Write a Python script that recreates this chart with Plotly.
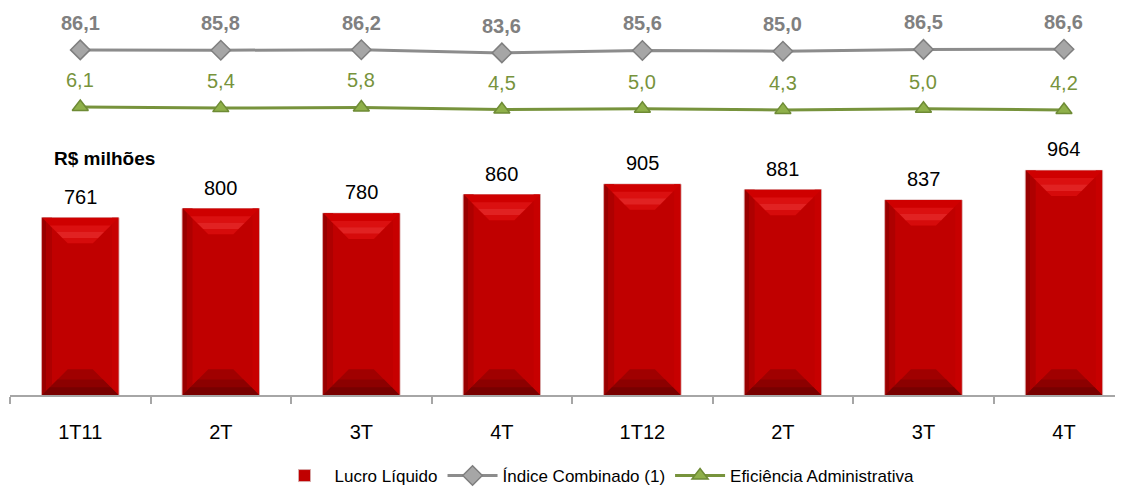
import plotly.graph_objects as go

categories = ["1T11", "2T", "3T", "4T", "1T12", "2T ", "3T ", "4T "]
tick_labels = ["1T11", "2T", "3T", "4T", "1T12", "2T", "3T", "4T"]
lucro = [761, 800, 780, 860, 905, 881, 837, 964]
indice = [86.1, 85.8, 86.2, 83.6, 85.6, 85.0, 86.5, 86.6]
eficiencia = [6.1, 5.4, 5.8, 4.5, 5.0, 4.3, 5.0, 4.2]

FONT = "Liberation Sans, Arial, sans-serif"
RED = "#C00000"
GRAY = "#8C8C8C"
GREEN = "#77933C"
BAR_W = 0.55

# page body has an 8px margin: figure is sized/positioned to compensate
FIG_W, FIG_H = 1115, 482
M_L, M_R, M_T, M_B = 2, 0, 0, 95
PLOT_H = FIG_H - M_T - M_B   # 387
PLOT_W = FIG_W - M_L - M_R   # 1113

def br(v):
    return f"{v:.1f}".replace(".", ",")

fig = go.Figure()
fig.add_trace(go.Bar(
    x=categories, y=lucro, name="Lucro Líquido", width=BAR_W,
    marker=dict(color=RED, line=dict(color="#D8A8A8", width=1)),
    yaxis="y",
))
fig.add_trace(go.Scatter(
    x=categories, y=indice, name="Índice Combinado (1)", mode="lines+markers",
    line=dict(color=GRAY, width=3),
    marker=dict(symbol="diamond", size=15, color="#A6A6A6", line=dict(color="#7F7F7F", width=1.5)),
    yaxis="y2",
))
fig.add_trace(go.Scatter(
    x=categories, y=eficiencia, name="Eficiência Administrativa", mode="lines+markers",
    line=dict(color=GREEN, width=3),
    marker=dict(symbol="triangle-up", size=14, color="#8FB04A", line=dict(color="#6E8B35", width=1.5)),
    yaxis="y3",
))

# bevel decoration derived from bar values
shapes = []
dx = 0.182
dy = 110

def band(x0, x1, base, sign, t0, t1, color, opacity=1.0):
    # trapezoid band between depth fractions t0 and t1 of the bevel
    ya, yb = base - sign * dy * t0, base - sign * dy * t1
    path = (f"M {x0 + dx * t0},{ya} L {x1 - dx * t0},{ya} "
            f"L {x1 - dx * t1},{yb} L {x0 + dx * t1},{yb} Z")
    return dict(type="path", xref="x", yref="y", path=path, fillcolor=color,
                line=dict(width=0), layer="above", opacity=opacity)

for i, v in enumerate(lucro):
    x0, x1 = i - BAR_W / 2 + 0.004, i + BAR_W / 2 - 0.004
    shapes.append(dict(type="rect", xref="x", yref="y", x0=x0, x1=x0 + 0.03, y0=0, y1=v,
                       fillcolor="#980000", line=dict(width=0), layer="above"))
    shapes.append(dict(type="rect", xref="x", yref="y", x0=x0 + 0.03, x1=x0 + 0.07, y0=0, y1=v,
                       fillcolor="#AE0000", line=dict(width=0), layer="above"))
    shapes.append(dict(type="rect", xref="x", yref="y", x0=x1 - 0.045, x1=x1, y0=0, y1=v,
                       fillcolor="#C70000", line=dict(width=0), layer="above"))
    # top bevel
    shapes.append(band(x0, x1, v, 1, 0, 1, "#CF0000"))
    shapes.append(band(x0, x1, v, 1, 0.3, 0.55, "#DD1414", 0.8))
    shapes.append(band(x0, x1, v, 1, 0.55, 0.8, "#E83030", 0.7))
    shapes.append(band(x0, x1, v, 1, 0.8, 1.0, "#D81010", 0.7))
    # bottom bevel
    shapes.append(band(x0, x1, 0, -1, 0, 1, "#A00000"))
    shapes.append(band(x0, x1, 0, -1, 0, 0.6, "#8C0000"))
    shapes.append(band(x0, x1, 0, -1, 0, 0.3, "#780000"))

annotations = []
for c, v in zip(categories, lucro):
    annotations.append(dict(x=c, y=v, xref="x", yref="y", text=str(v), showarrow=False,
                            yanchor="middle", yshift=21, font=dict(family=FONT, size=20, color="#000000")))
for c, v in zip(categories, indice):
    annotations.append(dict(x=c, y=v, xref="x", yref="y2", text=f"<b>{br(v)}</b>", showarrow=False,
                            yanchor="middle", yshift=27, font=dict(family=FONT, size=20, color="#808080")))
for c, v in zip(categories, eficiencia):
    annotations.append(dict(x=c, y=v, xref="x", yref="y3", text=br(v), showarrow=False,
                            yanchor="middle", yshift=27, font=dict(family=FONT, size=20, color=GREEN)))

# window pixel -> paper coords (plot area spans window x 10..1123, y 8..395)
annotations.append(dict(x=(52 - 10) / PLOT_W, y=(395 - 158) / PLOT_H, xref="paper", yref="paper",
                        text="<b>R$ milhões</b>", showarrow=False, xanchor="left", yanchor="middle",
                        font=dict(family=FONT, size=19, color="#000000")))

K_BAR, K_GRAY, K_GREEN = 0.233, 1.2, 1.6
g0 = 86 - (395 - 50) / K_GRAY
e0 = 6.1 - (395 - 107) / K_GREEN

fig.update_layout(
    width=FIG_W, height=FIG_H, autosize=False,
    margin=dict(l=M_L, r=M_R, t=M_T, b=M_B, autoexpand=False),
    paper_bgcolor="white", plot_bgcolor="white",
    font=dict(family=FONT, size=17, color="#000000"),
    showlegend=True,
    legend=dict(orientation="h", x=(597 - 10) / PLOT_W, xanchor="center", y=(395 - 476) / PLOT_H,
                yanchor="middle", font=dict(family=FONT, size=17, color="#000000"), itemwidth=50,
                traceorder="normal", bgcolor="rgba(0,0,0,0)"),
    xaxis=dict(
        range=[-0.5, 7.42], tickmode="array", tickvals=categories, ticktext=tick_labels,
        showline=True, linecolor="#A6A6A6", linewidth=2, ticks="outside", tickson="boundaries",
        ticklen=7, tickcolor="#A6A6A6", tickwidth=2, showgrid=False, zeroline=False,
        tickfont=dict(family=FONT, size=20, color="#000000"), ticklabelstandoff=18,
    ),
    yaxis=dict(range=[0, PLOT_H / K_BAR], visible=False, showgrid=False, zeroline=False),
    yaxis2=dict(range=[g0, g0 + PLOT_H / K_GRAY], overlaying="y", visible=False, showgrid=False, zeroline=False),
    yaxis3=dict(range=[e0, e0 + PLOT_H / K_GREEN], overlaying="y", visible=False, showgrid=False, zeroline=False),
    annotations=annotations,
    shapes=shapes,
)

fig.write_html("out.html")
